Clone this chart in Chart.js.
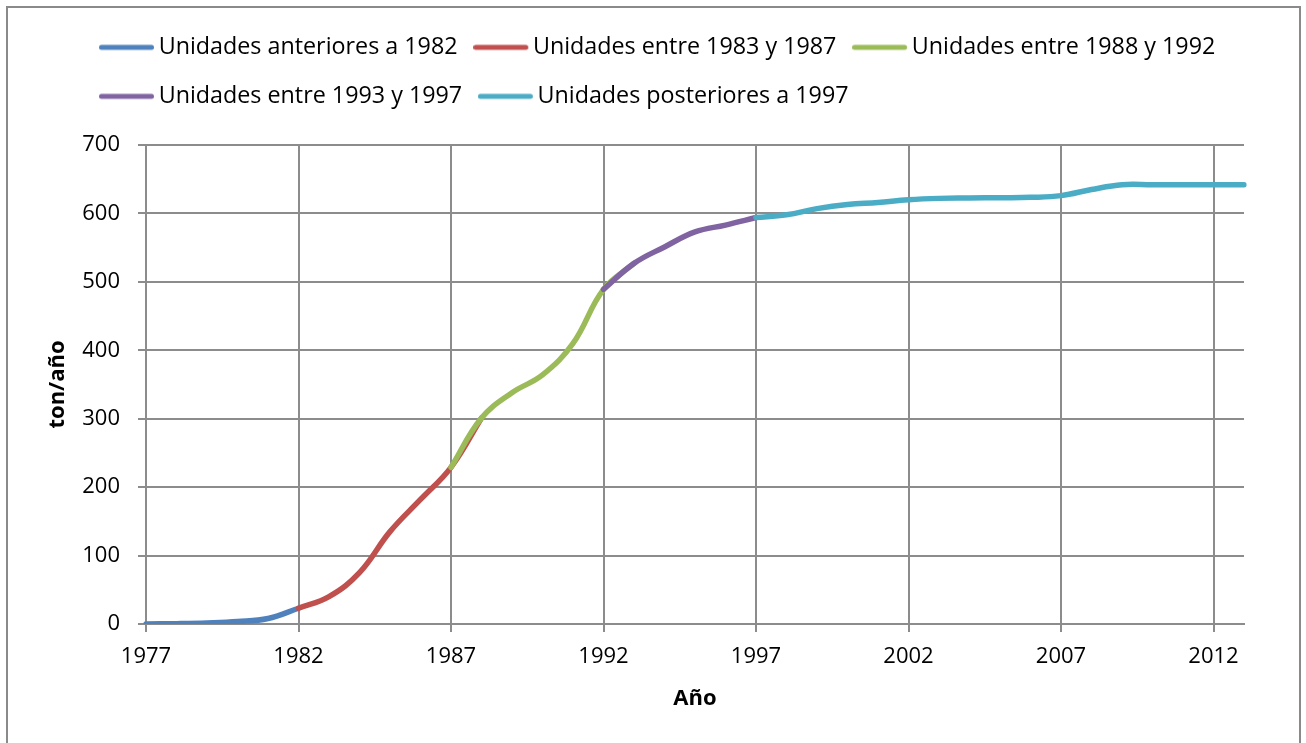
<!DOCTYPE html>
<html lang="es">
<head>
<meta charset="utf-8">
<title>Capacidad por periodo de instalación</title>
<script src="https://cdn.jsdelivr.net/npm/chart.js@4/dist/chart.umd.min.js"></script>
<style>
  html, body { margin: 0; padding: 0; background: #ffffff; }
  #wrap { position: relative; width: 1306px; height: 743px; }
</style>
</head>
<body>
<div id="wrap"><canvas id="chart"></canvas></div>
<script>
// Años del eje horizontal (una categoría por año)
const years = ['1977','1978','1979','1980','1981','1982','1983','1984','1985','1986',
               '1987','1988','1989','1990','1991','1992','1993','1994','1995','1996',
               '1997','1998','1999','2000','2001','2002','2003','2004','2005','2006',
               '2007','2008','2009','2010','2011','2012','2013'];
// Años que llevan etiqueta y línea de cuadrícula
const tickYears = ['1977','1982','1987','1992','1997','2002','2007','2012'];
// Eje vertical (ton/año)
const yMin = 0, yMax = 700, yStep = 100;

// Nombres y colores de las series
const seriesNames = ['Unidades anteriores a 1982', 'Unidades entre 1983 y 1987',
                     'Unidades entre 1988 y 1992', 'Unidades entre 1993 y 1997',
                     'Unidades posteriores a 1997'];
const seriesColors = ['#4F81BD', '#C0504D', '#9BBB59', '#8064A2', '#4BACC6'];

// Valores (ton/año) de cada serie y año en que comienza
const antes1982Start = '1977';
const antes1982 = [0, 0.5, 1.5, 3.5, 8, 23];
const entre83y87Start = '1982';
const entre83y87 = [23, 40, 75, 135, 182, 229, 301];
const entre88y92Start = '1987';
const entre88y92 = [229, 301, 338, 364, 410, 489, 527];
const entre93y97Start = '1992';
const entre93y97 = [489, 527, 551, 573, 583, 594];
const despues1997Start = '1997';
const despues1997 = [594, 598, 607, 613, 616, 620, 622, 622.5, 623, 623.5, 626, 635, 642, 642, 642, 642, 642];

// Rellena con null los años fuera del tramo de cada serie
function alongYears(start, values) {
  const first = years.indexOf(start);
  return years.map((_, i) => (i >= first && i < first + values.length) ? values[i - first] : null);
}

const seriesValues = [
  alongYears(antes1982Start, antes1982),
  alongYears(entre83y87Start, entre83y87),
  alongYears(entre88y92Start, entre88y92),
  alongYears(entre93y97Start, entre93y97),
  alongYears(despues1997Start, despues1997)
];

const gridColor = '#8c8c8c';
const baseFont = { family: 'Open Sans', size: 22 };
const legendFont = { family: 'Open Sans', size: 23.3 };
const boldFont = { family: 'Open Sans', size: 22, weight: 'bold' };
const legendPadding = 25.7;

// Muestra de línea para la leyenda
function sampleLine(color) {
  const c = document.createElement('canvas');
  c.width = 58; c.height = 10;
  const g = c.getContext('2d');
  g.strokeStyle = color;
  g.lineWidth = 5;
  g.lineCap = 'round';
  g.beginPath();
  g.moveTo(2.5, 5);
  g.lineTo(52.5, 5);
  g.stroke();
  return c;
}
const samples = seriesColors.map(sampleLine);

// Marco gris alrededor del gráfico
const frame = {
  id: 'frame',
  beforeDraw(chart) {
    const ctx = chart.ctx;
    ctx.save();
    ctx.fillStyle = '#ffffff';
    ctx.fillRect(0, 0, chart.width, chart.height);
    ctx.strokeStyle = '#8a8a8a';
    ctx.lineWidth = 2;
    ctx.strokeRect(7, 7, 1293, 800);
    ctx.restore();
  }
};

// Coloca la leyenda alineada a la izquierda, algo más arriba que su hueco
const legendPlacement = {
  id: 'legendPlacement',
  afterLayout(chart) {
    const lg = chart.legend;
    if (!lg) return;
    lg.left += 83.3;
    lg.top -= 27;
  }
};

const isMajor = (ctx) => ctx.tick && tickYears.includes(years[ctx.tick.value]);

new Chart(document.getElementById('chart'), {
  type: 'line',
  data: {
    labels: years,
    datasets: seriesNames.map((name, i) => ({
      label: name,
      data: seriesValues[i],
      borderColor: seriesColors[i],
      backgroundColor: seriesColors[i],
      borderWidth: 5.5,
      borderCapStyle: 'round',
      borderJoinStyle: 'round',
      pointRadius: 0,
      pointHoverRadius: 0,
      tension: 0.4,
      fill: false,
      spanGaps: false,
      order: seriesNames.length - i
    }))
  },
  options: {
    responsive: true,
    maintainAspectRatio: false,
    animation: false,
    color: '#000000',
    layout: { padding: { top: 37, right: 62, bottom: 0, left: 0 } },
    plugins: {
      tooltip: { enabled: false },
      legend: {
        display: true,
        position: 'top',
        align: 'start',
        labels: {
          font: legendFont,
          color: '#000000',
          usePointStyle: true,
          pointStyleWidth: 38,
          padding: legendPadding,
          sort: (a, b) => a.datasetIndex - b.datasetIndex,
          generateLabels(chart) {
            const items = Chart.defaults.plugins.legend.labels.generateLabels(chart);
            items.forEach(it => { it.pointStyle = samples[it.datasetIndex]; });
            return items;
          }
        }
      }
    },
    scales: {
      x: {
        type: 'category',
        offset: false,
        grid: {
          color: (ctx) => isMajor(ctx) ? gridColor : 'rgba(0,0,0,0)',
          lineWidth: 2,
          tickLength: 8,
          drawTicks: true
        },
        border: { color: gridColor, width: 2 },
        ticks: {
          autoSkip: false,
          maxRotation: 0,
          minRotation: 0,
          padding: 12,
          color: '#000000',
          font: baseFont,
          callback: function (value) {
            const lab = this.getLabelForValue(value);
            return tickYears.includes(lab) ? lab : '';
          }
        },
        title: {
          display: true,
          text: 'Año',
          color: '#000000',
          font: boldFont,
          padding: { top: 0, bottom: 31 }
        },
        afterFit(scale) { scale.height = 119; }
      },
      y: {
        min: yMin,
        max: yMax,
        grid: { color: gridColor, lineWidth: 2, tickLength: 8 },
        border: { color: gridColor, width: 2 },
        ticks: { stepSize: yStep, padding: 18, color: '#000000', font: baseFont },
        title: {
          display: true,
          text: 'ton/año',
          color: '#000000',
          font: boldFont,
          padding: { top: 45, bottom: 0 }
        },
        afterFit(scale) { scale.width = 146; }
      }
    }
  },
  plugins: [frame, legendPlacement]
});
</script>
</body>
</html>
